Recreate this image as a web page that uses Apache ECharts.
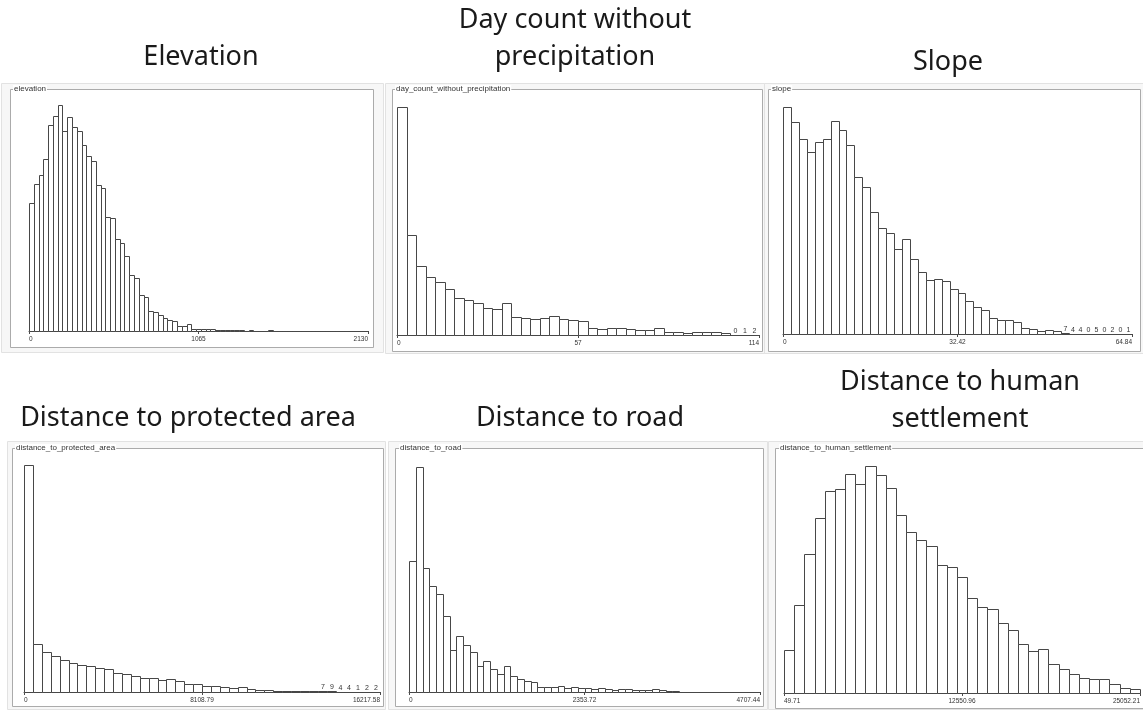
<!DOCTYPE html>
<html><head><meta charset="utf-8">
<script src="https://cdn.jsdelivr.net/npm/echarts@6/dist/echarts.min.js"></script>
<style>html,body{margin:0;padding:0;background:#fff}#c{width:1143px;height:710px}</style>
</head><body><div id="c"></div><script>
// ---- data ----
const panelTitles = ['Elevation', 'Day count without\nprecipitation', 'Slope',
  'Distance to protected area', 'Distance to road', 'Distance to human\nsettlement'];
const fieldNames = ['elevation', 'day_count_without_precipitation', 'slope',
  'distance_to_protected_area', 'distance_to_road', 'distance_to_human_settlement'];

const elevationRange = [0, 2130];
const elevationTicks = ['0', '1065', '2130'];
const elevationCounts = [1280,1470,1560,1720,2060,2150,2260,2000,2140,2040,2000,1860,1750,1700,1460,1430,1140,1130,920,880,
  750,560,530,360,340,200,190,160,130,110,100,50,50,70,25,25,25,20,25,15,
  12,10,8,8,6,5,12,3,3,3,12,2,1,1,1,0,1,0,0,1,0,0,0,0,0,0,0,0,0,0,1];

const dayRange = [0, 114];
const dayTicks = ['0', '57', '114'];
const dayCounts = [2280,1000,690,580,530,460,370,350,320,270,260,320,180,170,160,170,190,160,150,140,
  70,60,70,70,60,50,50,70,30,30,20,30,30,30,20,0,1,2];

const slopeRange = [0, 64.84];
const slopeTicks = ['0', '32.42', '64.84'];
const slopeCounts = [2270,2120,1950,1820,1920,1950,2130,2040,1890,1570,1470,1220,1060,1010,850,950,750,620,540,550,
  530,450,410,330,270,240,160,140,140,120,60,50,30,40,30,7,4,4,0,5,0,2,0,1];

const protectedRange = [0, 16217.58];
const protectedTicks = ['0', '8108.79', '16217.58'];
const protectedCounts = [2270,480,400,360,320,290,270,260,240,230,190,180,160,140,140,120,130,110,80,80,
  60,60,50,40,50,30,20,20,10,10,10,10,10,7,9,4,4,1,2,2];

const roadRange = [0, 4707.44];
const roadTicks = ['0', '2353.72', '4707.44'];
const roadCounts = [1310,2250,1240,1060,980,760,420,560,470,400,260,310,230,180,260,160,130,110,100,50,
  50,50,60,40,50,40,40,30,40,30,20,30,30,20,20,20,30,20,10,10,5,5,3,3,2,2,1,1,0,0,0,0];

const settlementRange = [49.71, 25052.21];
const settlementTicks = ['49.71', '12550.96', '25052.21'];
const settlementCounts = [430,880,1390,1750,2020,2040,2190,2090,2270,2180,2050,1780,1610,1530,1470,1280,1260,1160,950,860,
  840,700,630,490,420,440,290,240,190,150,140,140,90,50,40];

// index of first bin whose count is written as a number above the bar (-1: none)
const countLabelFrom = [-1, 35, 35, 33, -1, -1];

// ---- layout ----
const yMax = 2400;
const panels = [
  {counts: elevationCounts, range: elevationRange, ticks: elevationTicks, grid: {left: 29, top: 91, width: 339, height: 240},
   outer: [1, 83, 382, 269], inner: [10, 89, 363, 258], title: [201, 57], label: [13, 89]},
  {counts: dayCounts, range: dayRange, ticks: dayTicks, grid: {left: 397, top: 95, width: 362, height: 240},
   outer: [385, 83, 380, 270], inner: [392, 89, 370, 262], title: [575, 39], label: [395, 89]},
  {counts: slopeCounts, range: slopeRange, ticks: slopeTicks, grid: {left: 783, top: 94, width: 349, height: 240},
   outer: [764, 83, 380, 270], inner: [768, 89, 372, 262], title: [948, 62], label: [771, 89]},
  {counts: protectedCounts, range: protectedRange, ticks: protectedTicks, grid: {left: 24, top: 452, width: 356, height: 240},
   outer: [7, 441, 378, 268], inner: [12, 448, 371, 258], title: [188, 418], label: [15, 448]},
  {counts: roadCounts, range: roadRange, ticks: roadTicks, grid: {left: 409, top: 452, width: 351, height: 240},
   outer: [388, 441, 379, 268], inner: [395, 448, 368, 258], title: [580, 418], label: [399, 448]},
  {counts: settlementCounts, range: settlementRange, ticks: settlementTicks, grid: {left: 784, top: 453, width: 360, height: 240},
   outer: [768, 441, 380, 268], inner: [775, 448, 372, 260], title: [960, 401], label: [779, 448]}
];

const grids = [], xAxes = [], yAxes = [], series = [], graphics = [];
panels.forEach((p, i) => {
  grids.push(Object.assign({containLabel: false}, p.grid));
  const r = p.range;
  const tickVals = [r[0], (r[0] + r[1]) / 2, r[1]];
  xAxes.push({
    gridIndex: i, type: 'value', min: r[0], max: r[1],
    splitLine: {show: false},
    axisLine: {show: true, onZero: false, lineStyle: {color: '#4a4a4a', width: 1}},
    axisTick: {show: true, customValues: tickVals, length: 3, lineStyle: {color: '#4a4a4a'}},
    axisLabel: {
      customValues: tickVals,
      formatter: (v) => {
        let best = 0;
        tickVals.forEach((t, k) => { if (Math.abs(t - v) < Math.abs(tickVals[best] - v)) best = k; });
        return p.ticks[best];
      },
      fontSize: 6.5, color: '#333', margin: 5, fontFamily: 'Liberation Sans',
      alignMinLabel: 'left', alignMaxLabel: 'right', showMinLabel: true, showMaxLabel: true, hideOverlap: false
    }
  });
  yAxes.push({gridIndex: i, type: 'value', min: 0, max: yMax, show: false});
  const n = p.counts.length, w = (r[1] - r[0]) / n;
  const data = p.counts.map((c, k) => [r[0] + k * w, r[0] + (k + 1) * w, c,
    (countLabelFrom[i] >= 0 && k >= countLabelFrom[i]) ? 1 : 0]);
  series.push({
    type: 'custom', xAxisIndex: i, yAxisIndex: i, data: data, encode: {x: [0, 1], y: 2},
    silent: true, animation: false, clip: false,
    renderItem: function (params, api) {
      const a = api.coord([api.value(0), 0]);
      const b = api.coord([api.value(1), api.value(2)]);
      const left = Math.round(a[0]) + 0.5, right = Math.round(b[0]) + 0.5;
      const bottom = Math.round(a[1]) + 0.5;
      const top = Math.min(bottom, Math.round(b[1]) + 0.5);
      const children = [{type: 'rect', shape: {x: left, y: top, width: right - left, height: bottom - top},
        style: {fill: '#fff', stroke: '#474747', lineWidth: 1}}];
      if (api.value(3)) {
        children.push({type: 'text', x: (left + right) / 2, y: top - 1,
          style: {text: String(api.value(2)), fill: '#333', font: '7px "Liberation Sans"', align: 'center', verticalAlign: 'bottom'}});
      }
      return {type: 'group', children: children};
    }
  });
  // frames
  graphics.push({type: 'rect', z: -2, shape: {x: p.outer[0] + 0.5, y: p.outer[1] + 0.5, width: p.outer[2], height: p.outer[3]},
    style: {fill: '#f7f7f7', stroke: '#e2e2e2', lineWidth: 1}});
  graphics.push({type: 'rect', z: -1, shape: {x: p.inner[0] + 0.5, y: p.inner[1] + 0.5, width: p.inner[2], height: p.inner[3]},
    style: {fill: '#ffffff', stroke: '#ababab', lineWidth: 1}});
  graphics.push({type: 'text', z: 5, x: p.label[0], y: p.label[1],
    style: {text: fieldNames[i], fill: '#333', font: '8px "Liberation Sans"', verticalAlign: 'middle',
      backgroundColor: '#fff', padding: [0, 1]}});
  graphics.push({type: 'text', z: 5, x: p.title[0], y: p.title[1],
    style: {text: panelTitles[i], fill: '#1a1a1a', font: '27px "Noto Sans"', align: 'center', verticalAlign: 'middle', lineHeight: 37}});
});

const chart = echarts.init(document.getElementById('c'), null, {renderer: 'canvas'});
chart.setOption({
  animation: false,
  backgroundColor: '#fff',
  grid: grids, xAxis: xAxes, yAxis: yAxes, series: series, graphic: graphics
});
</script></body></html>
